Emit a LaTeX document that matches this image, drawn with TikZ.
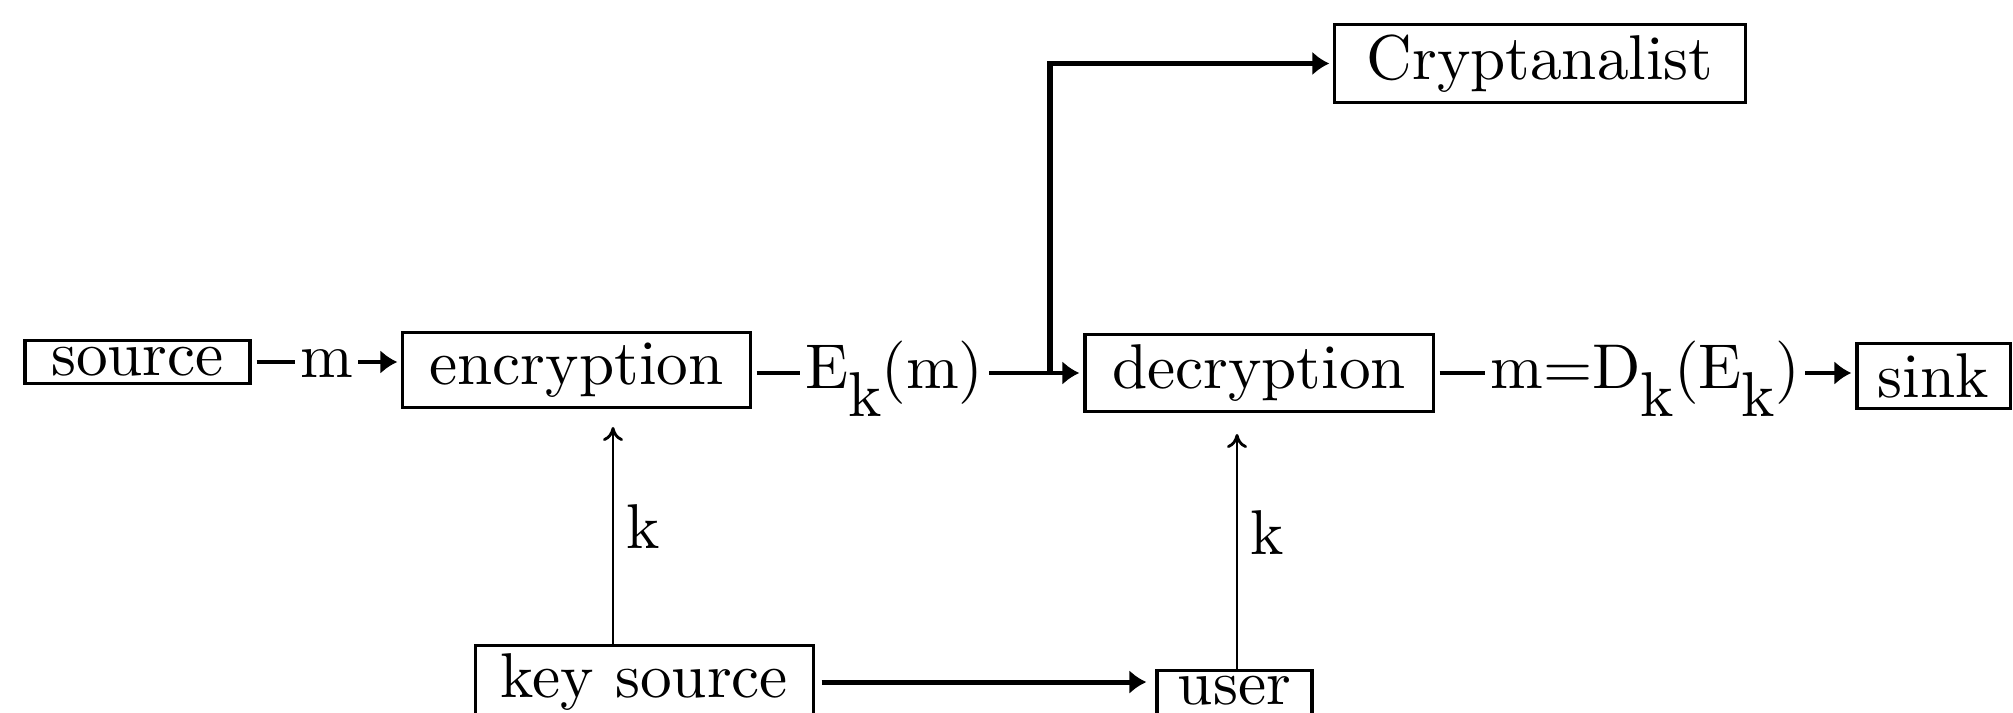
\documentclass[tikz,border=0pt]{standalone}
\usepackage{fontspec}
\setmainfont{lmroman10-regular.otf}
\usepackage{tikz}
\usetikzlibrary{arrows.meta,positioning,calc}
\tikzset{box/.style={draw,line width=0.9pt,inner xsep=0pt,inner ysep=0.1cm},
	lbl/.style={fill=white,inner xsep=0.05cm,inner ysep=0pt,text height=0.3cm,text depth=0pt},
}
\tikzstyle{flow}=[line width=1.4pt,shorten >=0.04cm,-{Latex[length=0.17cm,width=0.24cm]}]
\tikzstyle{flowline}=[line width=1.4pt,shorten <=0.05cm]
\tikzstyle{keyline}=[line width=0.8pt,-{To[length=0.14cm,width=0.2cm]}]
\newcommand{\lowk}{\raisebox{-0.45em}{k}}

\begin{document}
\begin{tikzpicture}[x=0.01cm,y=-0.01cm,font=\fontsize{18}{22}\selectfont]
		\useasboundingbox (0,0) rectangle (2013,713);
		\node[box,minimum width=2.25cm,inner ysep=0.07cm] (src) at (137.5,362) {source};
		\node[box,minimum width=3.47cm] (enc) at (576.5,370) {encryption};
		\node[box,minimum width=3.48cm] (dec) at (1259,373) {decryption};
		\node[box,minimum width=1.53cm] (sink) at (1933.5,376) {sink};
		\node[box,minimum width=4.10cm] (crypt) at (1540,63.5) {Cryptanalist};
		\node[box,minimum width=3.37cm,anchor=north,inner ysep=0.08cm] (keysrc) at (644.5,644) {key source};
		\node[box,minimum width=1.55cm,anchor=north,inner ysep=0.06cm,text depth=0.2cm] (user) at (1234.5,669) {user};
		\coordinate (fork) at (1050,373);
		\coordinate (kenc) at (613,427);
		\coordinate (kdec) at (1237,434);
		
		% main line
		\draw[flow,shorten <=0.05cm] (src.east) -- node[lbl,pos=0.5] (lm) {m} (src.east -| enc.west);
		\draw[flowline] (enc.east |- fork) -- node[lbl,pos=0.478] (lek) {E\lowk(m)} (fork);
		\draw[flow] (fork) -- (dec);
		\draw[flow,line width=1.6pt] (fork) |- (crypt.west);
		\draw[flow,shorten <=0.05cm] (dec.east) -- node[lbl,pos=0.5] (lmd) {m=D\lowk(E\lowk)} (dec.east -| sink.west);
		
		% keys
		\draw[keyline] (keysrc.north -| kenc) -- node[right,pos=0.54] (k1) {k} (kenc);
		\draw[keyline] (user.north -| kdec) -- node[right,pos=0.58] (k2) {k} (kdec);
		\draw[flow,shorten <=0.07cm,shorten >=0.09cm] (keysrc.east) -- (keysrc.east -| user.west);
\end{tikzpicture}
\end{document}
